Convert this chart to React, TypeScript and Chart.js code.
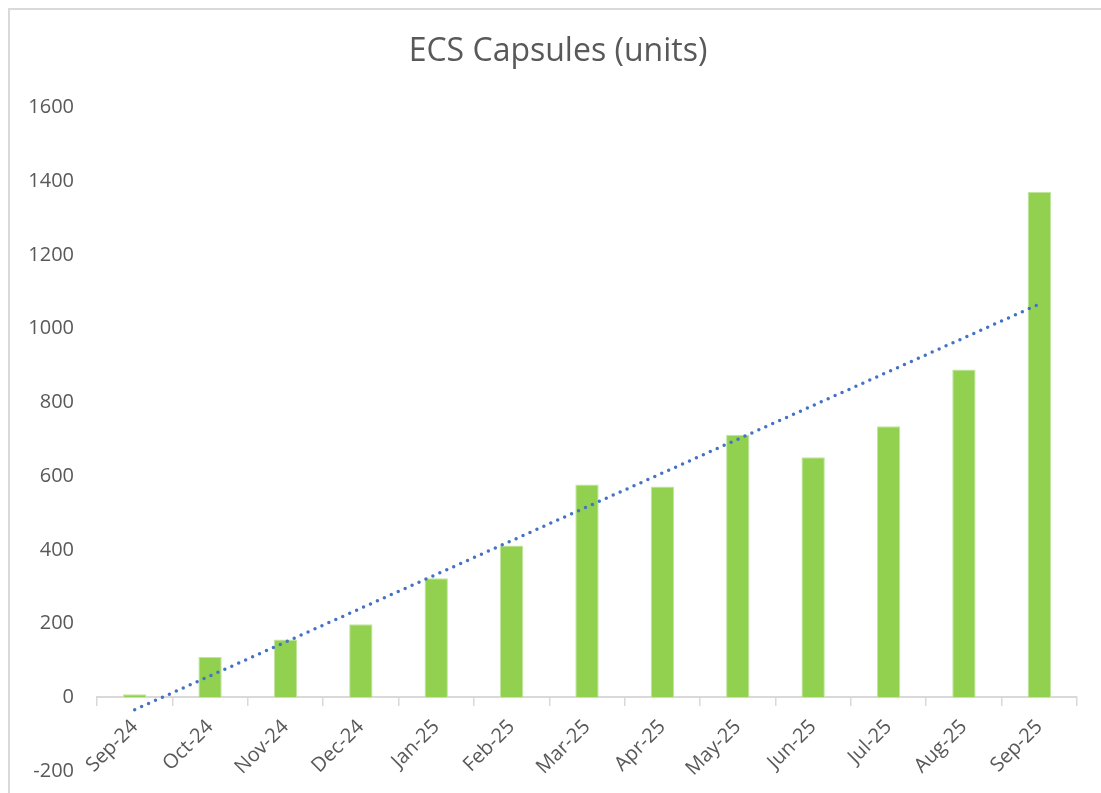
import React, { useEffect, useRef } from "react";
import { Chart, registerables } from "chart.js";

Chart.register(...registerables);

const categories = [
  "Sep-24", "Oct-24", "Nov-24", "Dec-24", "Jan-25", "Feb-25", "Mar-25",
  "Apr-25", "May-25", "Jun-25", "Jul-25", "Aug-25", "Sep-25",
];
const capsules = [8, 109, 157, 198, 323, 412, 577, 572, 712, 651, 735, 889, 1371];
const yTicks = { min: -200, max: 1600, step: 200 };
const titleText = "ECS Capsules (units)";

// Linear trendline (least squares) derived from the bar values, as Excel does.
function linearTrend(values: number[]): number[] {
  const n = values.length;
  const xs = values.map((_, i) => i);
  const mx = xs.reduce((a, b) => a + b, 0) / n;
  const my = values.reduce((a, b) => a + b, 0) / n;
  let sxy = 0;
  let sxx = 0;
  for (let i = 0; i < n; i++) {
    sxy += (xs[i] - mx) * (values[i] - my);
    sxx += (xs[i] - mx) * (xs[i] - mx);
  }
  const slope = sxy / sxx;
  const intercept = my - slope * mx;
  return xs.map((x) => intercept + slope * x);
}

const W = 1093;
const H = 785;

const borderPlugin = {
  id: "excelBorder",
  beforeDraw(chart: any) {
    const ctx = chart.ctx;
    ctx.save();
    ctx.fillStyle = "#ffffff";
    ctx.fillRect(0, 0, chart.width, chart.height);
    ctx.strokeStyle = "#d9d9d9";
    ctx.lineWidth = 2;
    ctx.strokeRect(1, 1, chart.width + 20, chart.height + 20);
    ctx.restore();
  },
};

// Let the y tick labels extend into the left layout padding (avoid clipping).
const yLabelRoom = {
  id: "yLabelRoom",
  afterLayout(chart: any) {
    const y = chart.scales.y;
    if (y) y.left = 0;
  },
};

export default function App() {
  const ref = useRef<HTMLCanvasElement | null>(null);

  useEffect(() => {
    if (!ref.current) return;
    const text = "#595959";
    const chart = new Chart(ref.current, {
      type: "bar",
      data: {
        labels: categories,
        datasets: [
          {
            type: "line" as const,
            label: "Trend",
            data: linearTrend(capsules),
            borderColor: "#4472C4",
            borderWidth: 3.5,
            borderDash: [0, 7.6],
            borderCapStyle: "round",
            pointRadius: 0,
            fill: false,
            order: 0,
          },
          {
            type: "bar" as const,
            label: "ECS Capsules",
            data: capsules,
            backgroundColor: "#92D050",
            borderColor: "#c2e6a0",
            borderWidth: 1,
            barPercentage: 0.31,
            categoryPercentage: 1,
            order: 1,
          },
        ],
      } as any,
      options: {
        animation: false,
        responsive: false,
        layout: { padding: { left: 31, right: 24, top: 0, bottom: 22 } },
        plugins: {
          legend: { display: false },
          tooltip: { enabled: false },
          title: {
            display: true,
            text: titleText,
            color: text,
            font: { family: "'Open Sans', sans-serif", size: 32, weight: "normal" },
            padding: { top: 25, bottom: 36 },
          },
        },
        scales: {
          x: {
            position: { y: 0 } as any,
            offset: true,
            grid: {
              display: true,
              offset: true,
              drawOnChartArea: false,
              drawTicks: true,
              tickLength: 8,
              color: "#d9d9d9",
              lineWidth: 1.5,
            },
            border: { display: true, color: "#d9d9d9", width: 2 },
            ticks: {
              color: text,
              font: { family: "'Open Sans', sans-serif", size: 20 },
              minRotation: 45,
              maxRotation: 45,
              autoSkip: false,
              padding: 10,
            },
          },
          y: {
            min: yTicks.min,
            max: yTicks.max,
            grid: { display: false, drawTicks: true, tickLength: 23 },
            border: { display: false },
            ticks: {
              stepSize: yTicks.step,
              color: text,
              font: { family: "'Open Sans', sans-serif", size: 20 },
              padding: 0,
              callback: (v: any) => String(v),
            },
            afterFit: (scale: any) => {
              scale.width = 58;
            },
          },
        },
      },
      plugins: [borderPlugin, yLabelRoom],
    });
    return () => chart.destroy();
  }, []);

  return (
    <div style={{ position: "fixed", left: 8, top: 8 }}>
      <canvas ref={ref} width={W} height={H} style={{ display: "block", width: W, height: H }} />
    </div>
  );
}
